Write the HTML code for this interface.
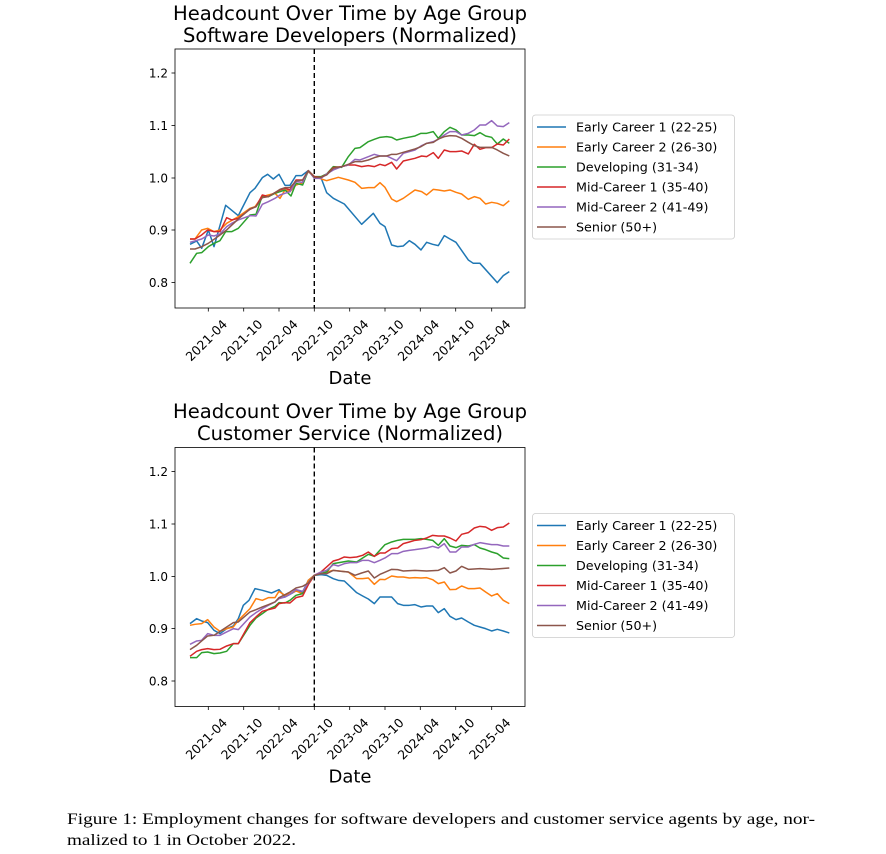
<!DOCTYPE html>
<html><head><meta charset="utf-8"><style>
html,body{margin:0;padding:0;background:#fff;width:886px;height:854px;overflow:hidden}
svg{display:block}
text{font-family:"DejaVu Sans","Liberation Sans",sans-serif;fill:#000}
.cap{font-family:"Liberation Serif",serif;font-size:16px}
</style></head><body>
<svg width="886" height="854" viewBox="0 0 886 854" xmlns="http://www.w3.org/2000/svg">
<defs>
<g id="yt">
<g stroke="#000" stroke-width="0.8">
<line x1="171.5" x2="175" y1="73" y2="73"/><line x1="171.5" x2="175" y1="125.5" y2="125.5"/><line x1="171.5" x2="175" y1="178" y2="178"/><line x1="171.5" x2="175" y1="230" y2="230"/><line x1="171.5" x2="175" y1="282.5" y2="282.5"/>
<line x1="208.3" x2="208.3" y1="308" y2="311.5"/><line x1="243.7" x2="243.7" y1="308" y2="311.5"/><line x1="279" x2="279" y1="308" y2="311.5"/><line x1="314.3" x2="314.3" y1="308" y2="311.5"/><line x1="349.7" x2="349.7" y1="308" y2="311.5"/><line x1="385" x2="385" y1="308" y2="311.5"/><line x1="420.3" x2="420.3" y1="308" y2="311.5"/><line x1="455.7" x2="455.7" y1="308" y2="311.5"/><line x1="491.7" x2="491.7" y1="308" y2="311.5"/>
</g>
<g font-size="12" text-anchor="end">
<text x="168" y="77.5">1.2</text><text x="168" y="130">1.1</text><text x="168" y="182.5">1.0</text><text x="168" y="234.5">0.9</text><text x="168" y="287">0.8</text>
</g>
<g font-size="12.5" text-anchor="middle" dominant-baseline="middle">
<text transform="translate(207,341) rotate(-45)">2021-04</text>
<text transform="translate(242.4,341) rotate(-45)">2021-10</text>
<text transform="translate(277.7,341) rotate(-45)">2022-04</text>
<text transform="translate(313,341) rotate(-45)">2022-10</text>
<text transform="translate(348.4,341) rotate(-45)">2023-04</text>
<text transform="translate(383.7,341) rotate(-45)">2023-10</text>
<text transform="translate(419,341) rotate(-45)">2024-04</text>
<text transform="translate(454.4,341) rotate(-45)">2024-10</text>
<text transform="translate(490.4,341) rotate(-45)">2025-04</text>
</g>
<text x="350" y="384" font-size="18" text-anchor="middle">Date</text>
<line x1="314.3" x2="314.3" y1="49" y2="308" stroke="#000" stroke-width="1.4" stroke-dasharray="5,3"/>
<rect x="175" y="49" width="350" height="259" fill="none" stroke="#000" stroke-width="0.8"/>
<g>
<rect x="532.5" y="115" width="202" height="124" rx="3" fill="#fff" stroke="#ccc" stroke-width="0.8"/>
<g stroke-width="1.5">
<line x1="537" x2="566" y1="127" y2="127" stroke="#1f77b4"/>
<line x1="537" x2="566" y1="147" y2="147" stroke="#ff7f0e"/>
<line x1="537" x2="566" y1="167" y2="167" stroke="#2ca02c"/>
<line x1="537" x2="566" y1="187" y2="187" stroke="#d62728"/>
<line x1="537" x2="566" y1="207" y2="207" stroke="#9467bd"/>
<line x1="537" x2="566" y1="227" y2="227" stroke="#8c564b"/>
</g>
<g font-size="12.7">
<text x="576" y="131.5">Early Career 1 (22-25)</text>
<text x="576" y="151.5">Early Career 2 (26-30)</text>
<text x="576" y="171.5">Developing (31-34)</text>
<text x="576" y="191.5">Mid-Career 1 (35-40)</text>
<text x="576" y="211.5">Mid-Career 2 (41-49)</text>
<text x="576" y="231.5">Senior (50+)</text>
</g>
</g>
</g>
</defs>

<!-- Top chart -->
<text x="350" y="20" font-size="19.5" text-anchor="middle" textLength="354" lengthAdjust="spacingAndGlyphs">Headcount Over Time by Age Group</text>
<text x="350" y="42" font-size="19.5" text-anchor="middle" textLength="334" lengthAdjust="spacingAndGlyphs">Software Developers (Normalized)</text>
<use href="#yt"/>
<g transform="translate(175,50) scale(0.3333)" fill="none" stroke-width="4.5" stroke-linejoin="round">
<polyline stroke="#1f77b4" points="45,583 65,573 80,595 100,540 117,590 152,466 190,497 225,428 240,415 262,383 278,373 295,387 312,373 330,406 345,406 363,377 380,377 400,362 418,380 438,383 455,428 475,445 508,462 560,523 595,490 615,520 630,530 650,585 668,590 685,588 703,572 720,583 738,600 755,577 773,583 790,587 808,557 825,567 843,577 880,630 895,640 915,640 967,698 985,677 1003,665"/>
<polyline stroke="#ff7f0e" points="45,567 60,567 80,540 98,535 117,545 135,540 155,520 190,500 225,475 240,470 262,440 280,435 300,430 315,445 330,420 345,425 363,405 380,400 400,365 418,380 455,392 480,385 490,382 520,390 540,397 560,415 580,413 598,413 615,398 630,412 650,447 665,455 685,445 720,420 740,425 755,435 775,418 790,420 808,423 825,420 843,427 860,432 880,448 898,440 915,445 932,462 950,457 967,460 985,467 1003,452"/>
<polyline stroke="#2ca02c" points="45,640 65,610 80,608 100,590 117,580 135,572 152,545 170,545 190,535 225,495 243,493 262,437 280,440 300,430 315,425 330,420 348,438 363,400 383,405 400,362 418,380 438,380 455,372 475,350 500,352 520,320 540,295 555,293 580,275 598,268 615,262 635,260 650,262 665,270 685,265 720,258 738,250 755,250 775,245 790,265 808,245 825,232 843,240 860,255 880,255 898,257 915,248 932,258 950,262 967,282 985,267 1003,280"/>
<polyline stroke="#d62728" points="45,567 60,567 80,555 98,540 117,545 135,545 155,503 170,510 190,505 225,478 243,470 262,435 280,440 300,428 315,420 330,415 345,420 363,390 383,390 400,362 418,380 438,382 455,373 475,353 500,350 520,345 540,345 560,350 580,347 598,350 615,343 630,347 650,337 665,357 685,333 720,325 740,318 755,320 775,308 790,325 808,300 825,305 843,305 860,303 880,312 898,283 915,298 932,293 950,293 967,282 985,285 1003,267"/>
<polyline stroke="#9467bd" points="45,577 80,567 100,555 117,558 135,552 155,530 170,520 190,510 225,497 243,498 262,463 280,455 300,445 315,435 330,430 345,425 363,395 383,397 400,362 418,385 438,385 455,372 475,360 500,350 520,345 540,328 555,330 580,320 598,313 615,318 635,318 650,325 665,332 685,310 720,300 738,288 755,280 775,275 790,268 808,255 825,245 843,245 860,255 880,250 898,240 915,225 932,225 950,212 967,228 985,230 1003,218"/>
<polyline stroke="#8c564b" points="45,597 60,597 80,590 100,580 117,568 135,555 155,540 190,507 225,477 243,470 262,443 280,440 300,428 315,418 330,413 345,413 363,393 383,390 400,362 418,382 438,382 455,375 475,355 500,350 520,343 540,335 560,335 580,330 598,323 615,318 635,318 650,313 665,313 685,307 720,297 738,290 755,280 775,277 790,267 808,260 825,257 843,258 860,265 880,277 898,287 915,292 932,292 950,292 967,300 985,310 1003,318"/>
</g>

<!-- Bottom chart -->
<text x="350" y="418" font-size="19.5" text-anchor="middle" textLength="354" lengthAdjust="spacingAndGlyphs">Headcount Over Time by Age Group</text>
<text x="350" y="440" font-size="19.5" text-anchor="middle" textLength="306" lengthAdjust="spacingAndGlyphs">Customer Service (Normalized)</text>
<use href="#yt" transform="translate(0,398.5)"/>
<g transform="translate(175,447) scale(0.3333)" fill="none" stroke-width="4.5" stroke-linejoin="round">
<polyline stroke="#1f77b4" points="45,530 65,515 80,522 98,527 117,550 135,560 155,545 175,537 190,515 205,475 222,460 240,425 262,430 290,438 312,428 330,450 345,442 363,432 383,435 400,400 418,385 438,383 455,385 475,395 490,400 508,402 525,418 545,437 563,447 580,456 598,470 615,450 650,450 668,470 685,475 703,475 720,473 738,480 755,477 773,477 790,497 808,485 825,508 843,518 860,513 880,525 898,535 915,540 932,545 950,552 967,547 985,552 1003,558"/>
<polyline stroke="#ff7f0e" points="45,535 60,532 80,530 98,518 117,540 135,553 155,545 175,540 190,520 225,485 243,455 262,460 280,452 300,452 312,433 330,445 345,440 363,432 383,440 400,400 418,385 438,380 455,375 475,370 520,375 545,395 563,395 580,393 598,412 615,397 630,398 650,387 668,390 685,390 703,393 720,392 738,393 755,392 773,398 790,410 808,405 825,428 843,427 860,417 880,425 898,425 915,423 932,435 950,447 967,440 985,460 1003,470"/>
<polyline stroke="#2ca02c" points="45,632 65,632 80,617 98,615 117,620 135,618 155,613 175,590 190,590 225,535 243,513 262,500 280,487 300,478 312,467 330,468 345,460 363,445 383,440 400,410 418,385 438,380 455,375 475,350 520,342 545,345 563,333 580,322 598,328 630,293 650,285 668,280 685,277 720,277 738,275 755,277 773,280 790,295 808,275 825,297 843,302 860,295 880,297 898,293 915,303 932,308 950,315 967,320 985,333 1003,335"/>
<polyline stroke="#d62728" points="45,628 65,613 80,608 98,605 117,608 135,607 155,597 175,590 190,590 225,527 243,510 262,493 280,488 300,483 312,470 330,467 345,468 363,452 383,447 400,413 418,385 438,375 455,360 475,342 490,338 508,330 525,332 545,330 563,325 580,315 598,328 615,318 630,318 650,305 668,303 685,290 703,285 720,280 738,278 755,273 773,265 790,267 808,267 825,273 843,282 860,262 880,257 898,243 915,238 932,240 950,250 967,242 985,240 1003,228"/>
<polyline stroke="#9467bd" points="45,592 65,582 80,580 98,560 117,565 135,565 155,555 175,545 190,548 225,510 243,497 262,485 280,475 300,465 312,455 330,450 345,442 363,428 383,433 400,407 418,385 438,375 455,370 475,353 490,357 508,350 525,347 545,347 563,340 580,340 598,347 615,340 630,333 650,320 668,320 685,313 703,310 720,308 755,303 773,298 790,303 808,290 825,315 843,315 860,300 880,300 898,292 915,287 932,290 950,293 967,293 985,297 1003,297"/>
<polyline stroke="#8c564b" points="45,608 65,595 80,582 98,567 117,565 135,553 155,540 175,527 190,525 225,495 243,488 262,480 280,473 300,465 312,452 330,443 345,435 363,423 383,418 400,408 418,385 438,380 455,380 475,370 500,373 520,375 540,385 560,378 580,372 598,393 615,382 650,367 668,368 685,372 720,370 755,372 790,370 808,362 825,378 843,372 860,358 880,367 915,365 950,367 1003,363"/>
</g>

<text class="cap" x="67" y="824" textLength="748" lengthAdjust="spacingAndGlyphs">Figure 1:  Employment changes for software developers and customer service agents by age, nor-</text>
<text class="cap" x="67" y="845" textLength="229" lengthAdjust="spacingAndGlyphs">malized to 1 in October 2022.</text>
</svg>
</body></html>
